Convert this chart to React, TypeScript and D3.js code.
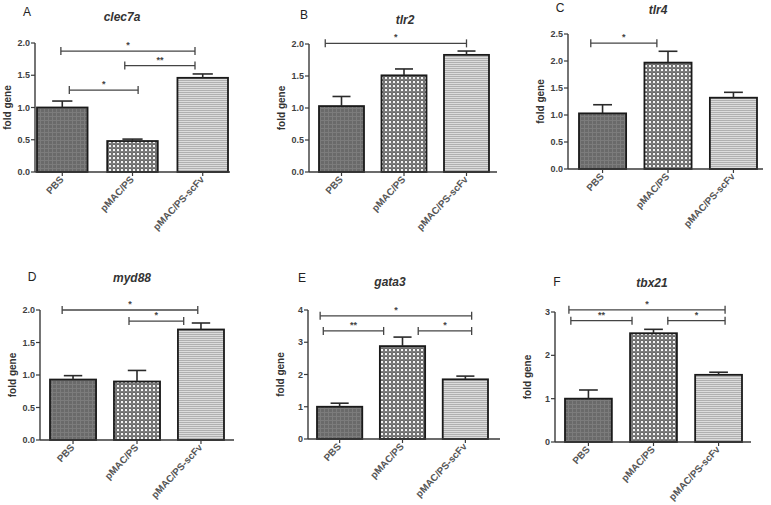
import React from "react";
import * as d3 from "d3";

// groups on the x axis
const categories = ["PBS", "pMAC/PS", "pMAC/PS-scFv"];
const genes = ["clec7a", "tlr2", "tlr4", "myd88", "gata3", "tbx21"];
const letters = ["A", "B", "C", "D", "E", "F"];

// mean fold change per gene (PBS, pMAC/PS, pMAC/PS-scFv)
const clec7aMeans = [1.0, 0.48, 1.46];
const tlr2Means = [1.03, 1.51, 1.83];
const tlr4Means = [1.03, 1.97, 1.32];
const myd88Means = [0.93, 0.9, 1.7];
const gata3Means = [1.0, 2.88, 1.85];
const tbx21Means = [1.0, 2.51, 1.55];

// error bar (upper, SEM)
const clec7aErr = [0.1, 0.03, 0.06];
const tlr2Err = [0.15, 0.1, 0.06];
const tlr4Err = [0.16, 0.21, 0.1];
const myd88Err = [0.06, 0.17, 0.1];
const gata3Err = [0.11, 0.28, 0.1];
const tbx21Err = [0.2, 0.09, 0.06];

// y axis maximum and tick step
const yMaxes = [2, 2, 2.5, 2, 4, 3];
const ySteps = [0.5, 0.5, 0.5, 0.5, 1, 1];

// significance brackets: [from group, to group, y value, label]
const clec7aSig = [[-0.02, 1.89, 1.875, "*"], [0.89, 1.89, 1.65, "**"], [0.1, 1.08, 1.27, "*"]];
const tlr2Sig = [[-0.26, 2.0, 2.01, "*"]];
const tlr4Sig = [[-0.18, 0.83, 2.33, "*"]];
const myd88Sig = [[-0.17, 1.95, 2.0, "*"], [0.875, 1.73, 1.83, "*"]];
const gata3Sig = [[-0.31, 2.1, 3.82, "*"], [-0.26, 0.7, 3.35, "**"], [1.25, 2.1, 3.35, "*"]];
const tbx21Sig = [[-0.3, 2.1, 3.05, "*"], [-0.27, 0.67, 2.8, "**"], [1.22, 2.1, 2.8, "*"]];

const means = [clec7aMeans, tlr2Means, tlr4Means, myd88Means, gata3Means, tbx21Means];
const errs = [clec7aErr, tlr2Err, tlr4Err, myd88Err, gata3Err, tbx21Err];
const sigs = [clec7aSig, tlr2Sig, tlr4Sig, myd88Sig, gata3Sig, tbx21Sig];

// panel placement on the page
const layout = [
  { ax0: 35, ax1: 230, band: [37, 228], y0: 172, yTop: 43, titleX: 122, titleY: 21, lx: 27, ly: 16 },
  { ax0: 309, ax1: 497, band: [319, 489], y0: 172, yTop: 44, titleX: 405, titleY: 24, lx: 304, ly: 19 },
  { ax0: 568, ax1: 763, band: [579, 757], y0: 169, yTop: 34, titleX: 658, titleY: 14, lx: 560, ly: 12 },
  { ax0: 40, ax1: 234, band: [50, 224], y0: 440, yTop: 310, titleX: 132, titleY: 282, lx: 32, ly: 281 },
  { ax0: 308, ax1: 500, band: [317, 488], y0: 439, yTop: 310, titleX: 390, titleY: 286, lx: 302, ly: 282 },
  { ax0: 555, ax1: 751, band: [565, 742], y0: 442, yTop: 312, titleX: 652, titleY: 287, lx: 557, ly: 286 },
];

const fills = ["url(#pGrid)", "url(#pDots)", "url(#pLines)"];
const axisColor = "#3a3a3a";
const textColor = "#3f3f3f";
const font = "'Liberation Sans', Arial, sans-serif";

function Panel({ i }: { i: number }) {
  const L = layout[i];
  const x = d3.scaleBand().domain(categories).range(L.band as [number, number]).paddingInner(0.28).paddingOuter(0);
  const y = d3.scaleLinear().domain([0, yMaxes[i]]).range([L.y0, L.yTop]);
  const bw = x.bandwidth();
  const centers = categories.map((c) => (x(c) as number) + bw / 2);
  const gpos = d3.scaleLinear().domain([0, 2]).range([centers[0], centers[2]]);
  const ticks = d3.range(0, yMaxes[i] + 1e-9, ySteps[i]);
  const fmt = ySteps[i] < 1 ? d3.format(".1f") : d3.format("d");
  const capW = bw * 0.4;

  return (
    <g>
      <text x={L.lx} y={L.ly} fontFamily={font} fontSize={12} fill="#222" textAnchor="middle">{letters[i]}</text>
      <text x={L.titleX} y={L.titleY} fontFamily={font} fontSize={12} fontWeight="bold" fontStyle="italic" fill="#333" textAnchor="middle">{genes[i]}</text>
      <text transform={`translate(${L.ax0 - 24},${(L.y0 + L.yTop) / 2}) rotate(-90)`} fontFamily={font} fontSize={10} fontWeight="bold" fill="#333" textAnchor="middle">fold gene</text>

      {/* bars */}
      {means[i].map((v, k) => (
        <rect key={"b" + k} x={x(categories[k])} y={y(v)} width={bw} height={L.y0 - y(v)} fill={fills[k]} stroke="#1a1a1a" strokeWidth={1.8} />
      ))}
      {/* error bars */}
      {means[i].map((v, k) => (
        <g key={"e" + k} stroke="#2a2a2a" strokeWidth={1.6}>
          <line x1={centers[k]} x2={centers[k]} y1={y(v)} y2={y(v + errs[i][k])} />
          <line x1={centers[k] - capW / 2} x2={centers[k] + capW / 2} y1={y(v + errs[i][k])} y2={y(v + errs[i][k])} />
        </g>
      ))}

      {/* axes */}
      <line x1={L.ax0} x2={L.ax0} y1={L.yTop} y2={L.y0} stroke={axisColor} strokeWidth={1.4} />
      <line x1={L.ax0} x2={L.ax1} y1={L.y0} y2={L.y0} stroke={axisColor} strokeWidth={1.4} />
      {ticks.map((t) => (
        <g key={"t" + t}>
          <line x1={L.ax0 - 4} x2={L.ax0} y1={y(t)} y2={y(t)} stroke={axisColor} strokeWidth={1.2} />
          <text x={L.ax0 - 5} y={y(t) + 3} fontFamily={font} fontSize={9} fontWeight="bold" fill={textColor} textAnchor="end">{fmt(t)}</text>
        </g>
      ))}
      {categories.map((c, k) => (
        <g key={"x" + k}>
          <line x1={centers[k]} x2={centers[k]} y1={L.y0} y2={L.y0 + 4} stroke={axisColor} strokeWidth={1.2} />
          <text transform={`translate(${centers[k] + 2},${L.y0 + 8}) rotate(-47)`} fontFamily={font} fontSize={9.8} fontWeight="bold" fill="#555" textAnchor="end">{c}</text>
        </g>
      ))}

      {/* significance brackets */}
      {sigs[i].map((s, k) => {
        const x1 = gpos(s[0] as number);
        const x2 = gpos(s[1] as number);
        const yy = y(s[2] as number);
        return (
          <g key={"s" + k} stroke="#444" strokeWidth={1.3}>
            <line x1={x1} x2={x2} y1={yy} y2={yy} />
            <line x1={x1} x2={x1} y1={yy - 4} y2={yy + 4} />
            <line x1={x2} x2={x2} y1={yy - 4} y2={yy + 4} />
            <text x={(x1 + x2) / 2} y={yy - 3} stroke="none" fill="#444" fontFamily={font} fontSize={9} fontWeight="bold" textAnchor="middle">{s[3]}</text>
          </g>
        );
      })}
    </g>
  );
}

export default function App() {
  return (
    <svg width={771} height={505} style={{ position: "absolute", left: 0, top: 0, background: "#fff" }}>
      <defs>
        <pattern id="pGrid" width={4} height={4} patternUnits="userSpaceOnUse">
          <rect width={4} height={4} fill="#6a6a6a" />
          <path d="M0 0.5H4M0.5 0V4" stroke="#7c7c7c" strokeWidth={1} />
        </pattern>
        <pattern id="pDots" width={4} height={4} patternUnits="userSpaceOnUse">
          <rect width={4} height={4} fill="#333" />
          <circle cx={2} cy={2} r={1.5} fill="#f4f4f4" />
          <circle cx={0} cy={0} r={0.8} fill="#ccc" />
          <circle cx={4} cy={4} r={0.8} fill="#ccc" />
          <circle cx={4} cy={0} r={0.8} fill="#ccc" />
          <circle cx={0} cy={4} r={0.8} fill="#ccc" />
        </pattern>
        <pattern id="pLines" width={4} height={2} patternUnits="userSpaceOnUse">
          <rect width={4} height={2} fill="#dcdcdc" />
          <path d="M0 0.5H4" stroke="#b0b0b0" strokeWidth={1} />
        </pattern>
      </defs>
      {genes.map((g, i) => (
        <Panel key={g} i={i} />
      ))}
    </svg>
  );
}
